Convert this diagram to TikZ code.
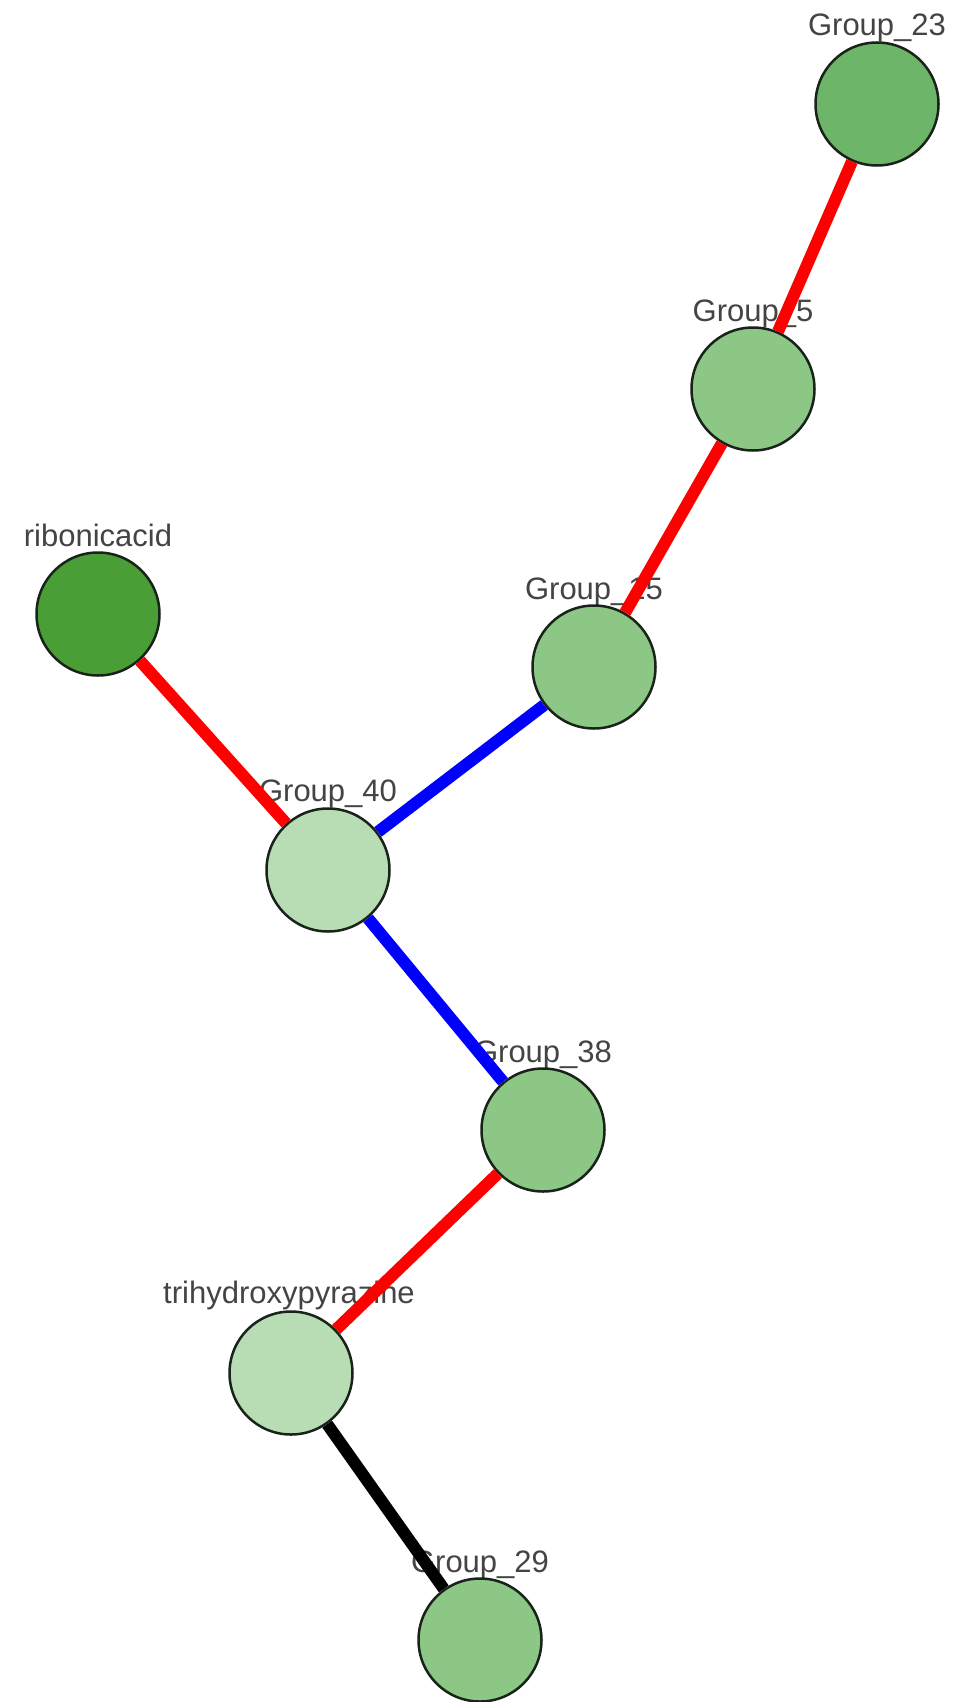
\documentclass[tikz,border=0pt]{standalone}
\usepackage{fontspec}
\setmainfont{Liberation Sans}
\definecolor{edgered}{RGB}{255,0,0}
\definecolor{edgeblue}{RGB}{0,0,255}
\definecolor{ringcol}{RGB}{25,35,25}
\definecolor{labcol}{RGB}{68,68,68}
\definecolor{gA}{RGB}{109,181,104}
\definecolor{gB}{RGB}{140,199,133}
\definecolor{gC}{RGB}{74,158,54}
\definecolor{gD}{RGB}{184,221,180}
\begin{document}
\begin{tikzpicture}[x=1pt,y=-1pt,
  vnode/.style={circle,draw=ringcol,line width=2.5pt,minimum size=123pt,inner sep=0pt},
  vlabel/.style={text=labcol,font=\fontsize{31}{31}\selectfont,inner sep=0pt,anchor=base},
  edgeline/.style={line width=12pt}]
\useasboundingbox (0,0) rectangle (962,1702);
\fill[white] (0,0) rectangle (962,1702);
% labels (drawn beneath the connectors)
\node[vlabel] (l23) at (877,36) {Group\_23};
\node[vlabel] (l5) at (753,321) {Group\_5};
\node[vlabel] (lrib) at (98,546) {ribonicacid};
\node[vlabel] (l15) at (594,599) {Group\_15};
\node[vlabel] (l40) at (328,801) {Group\_40};
\node[vlabel] (l38) at (543,1062) {Group\_38};
\node[vlabel] (ltri) at (289,1303) {trihydroxypyrazine};
\node[vlabel] (l29) at (480,1572) {Group\_29};
% nodes
\node[vnode,fill=gA] (g23) at (877,104) {};
\node[vnode,fill=gB] (g5) at (753,389) {};
\node[vnode,fill=gC] (rib) at (98,614) {};
\node[vnode,fill=gB] (g15) at (594,667) {};
\node[vnode,fill=gD] (g40) at (328,870) {};
\node[vnode,fill=gB] (g38) at (543,1130) {};
\node[vnode,fill=gD] (tri) at (291,1373) {};
\node[vnode,fill=gB] (g29) at (480,1640) {};
% edges
\draw[edgeline,edgered] (g23) -- (g5);
\draw[edgeline,edgered] (g5) -- (g15);
\draw[edgeline,edgered] (rib) -- (g40);
\draw[edgeline,edgeblue] (g15) -- (g40);
\draw[edgeline,edgeblue] (g40) -- (g38);
\draw[edgeline,edgered] (g38) -- (tri);
\draw[edgeline,black] (tri) -- (g29);
\end{tikzpicture}
\end{document}
